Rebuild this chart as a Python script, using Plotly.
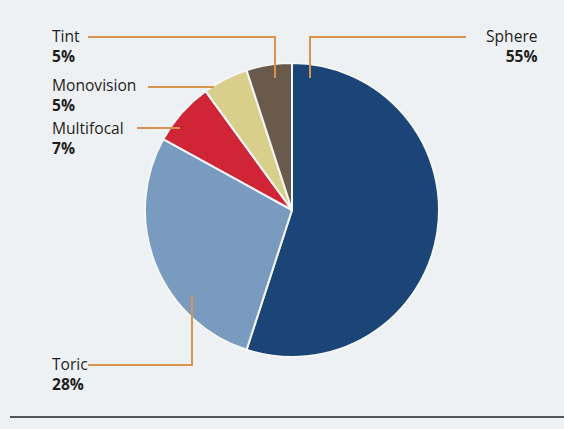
import plotly.graph_objects as go

categories = ["Sphere", "Toric", "Multifocal", "Monovision", "Tint"]
values = [55, 28, 7, 5, 5]
colors = ["#1b4577", "#7a9bc0", "#cf2536", "#d8d08a", "#6a5a4b"]

W, H = 564, 429

def px(x):
    return x / W

def py(y):
    return 1 - y / H

cx, cy, r = 292, 210, 147

fig = go.Figure(go.Pie(
    labels=categories,
    values=values,
    sort=False,
    direction="clockwise",
    rotation=0,
    marker=dict(colors=colors, line=dict(color="#f4f6f8", width=2)),
    textinfo="none",
    hoverinfo="label+percent",
    showlegend=False,
    domain=dict(x=[px(cx - r), px(cx + r)], y=[py(cy + r), py(cy - r)]),
))

lead = "#d9934e"
fam = "Open Sans, Roboto, sans-serif"

labels = [
    # name, x, y of text block centre, anchor
    ("Tint", 51, 46, "left"),
    ("Monovision", 51, 95, "left"),
    ("Multifocal", 51, 138, "left"),
    ("Toric", 51, 374, "left"),
    ("Sphere", 539, 46, "right"),
]
pct = {c: v for c, v in zip(categories, values)}
for name, x, y, anchor in labels:
    fig.add_annotation(
        x=px(x), y=py(y), xref="paper", yref="paper",
        xanchor=anchor, yanchor="middle", align=anchor,
        text=f"{name}<br><b>{pct[name]}%</b>", showarrow=False, borderpad=0,
        font=dict(family=fam, size=15.6, color="#1e1e1e"),
    )

paths = [
    [(88, 37), (275, 37), (275, 78)],
    [(466, 37), (310, 37), (310, 78)],
    [(148, 87), (214, 87)],
    [(137, 128), (180, 128)],
    [(88, 365), (192, 365), (192, 295)],
]
for pts in paths:
    d = "M " + " L ".join(f"{px(x)},{py(y)}" for x, y in pts)
    fig.add_shape(type="path", path=d, xref="paper", yref="paper",
                  line=dict(color=lead, width=2))

fig.add_shape(type="line", xref="paper", yref="paper",
              x0=px(10), x1=px(564), y0=py(417), y1=py(417),
              line=dict(color="#555555", width=2))

fig.update_layout(
    width=W, height=H,
    margin=dict(l=0, r=0, t=0, b=0),
    paper_bgcolor="#eef1f3",
    plot_bgcolor="#eef1f3",
)

fig.write_html("out.html")
